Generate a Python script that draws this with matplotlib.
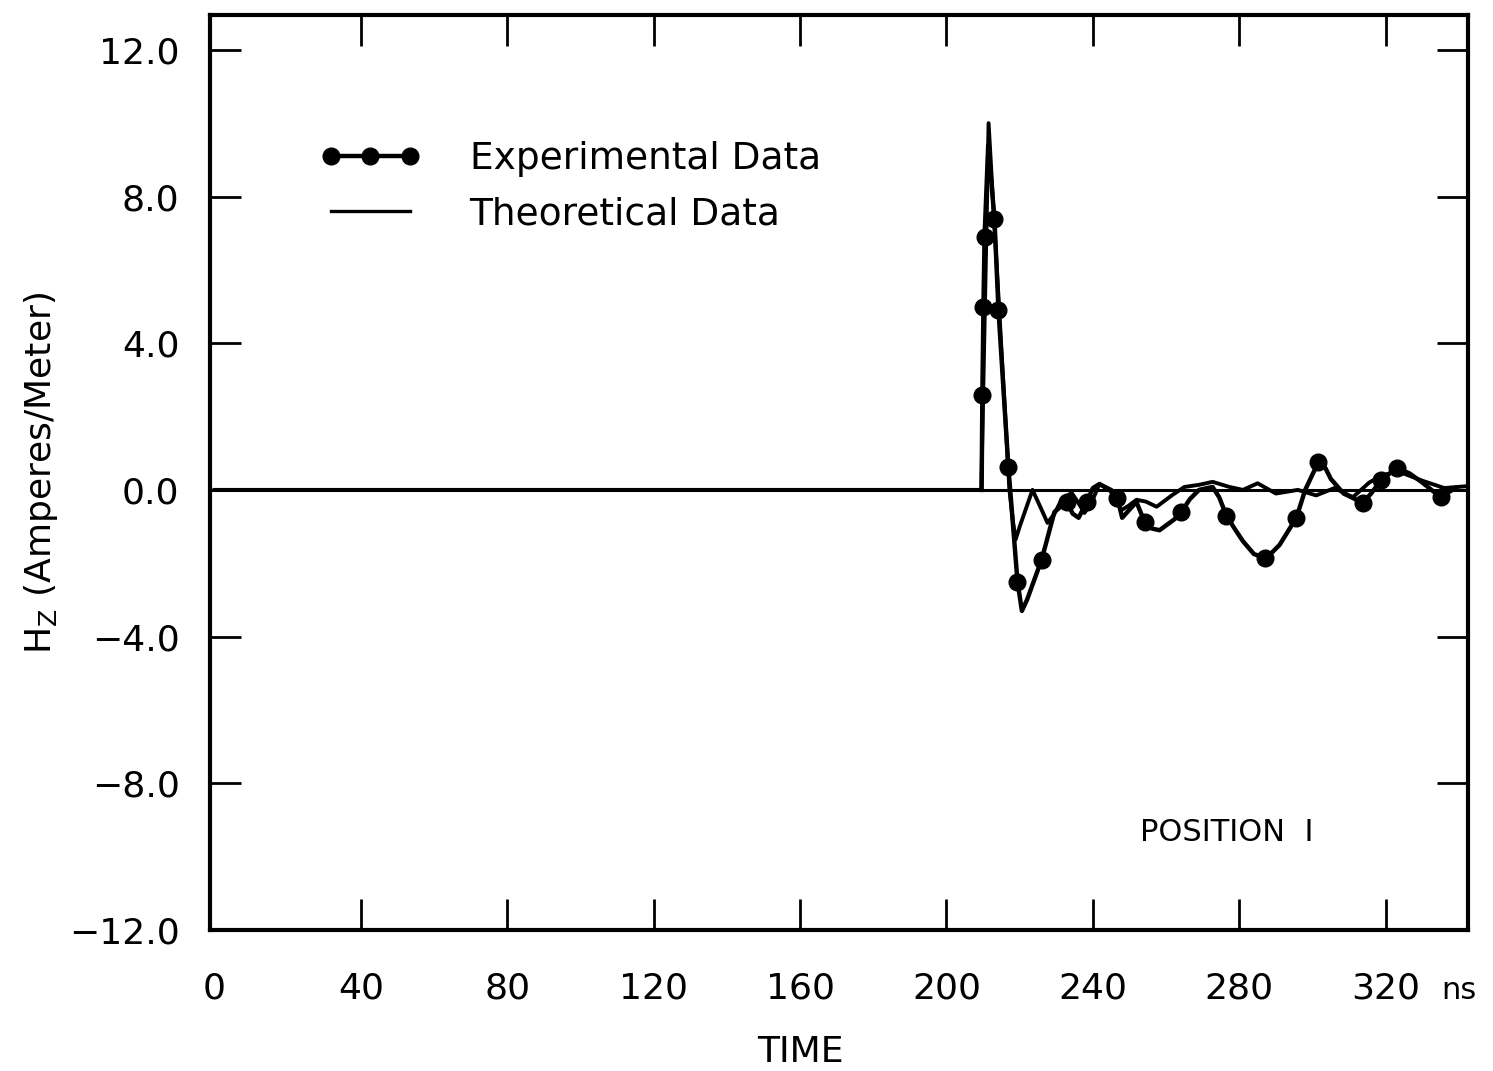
import matplotlib
matplotlib.use("Agg")
import matplotlib.pyplot as plt
from matplotlib.lines import Line2D

# ---------------- data ----------------
theory_t = [0, 209.5, 211.5, 217.2, 218.2, 218.9, 220.0, 223.5, 225.8, 227.6, 229.5,
            231.4, 234.2, 236.0, 237.7, 239.8, 241.8, 245.1, 246.6, 247.8, 249.5,
            251.9, 254.5, 257.4, 261.7, 265.0, 269.1, 272.7, 277.3, 281.0,
            285.0, 290.0, 296.0, 301.0, 306.0, 311.0, 315.5, 319.0, 323.5, 330.0,
            336.0, 342.0]
theory_v = [0, 0, 10.0, 0, -0.9, -1.35, -1.0, 0, -0.5, -0.9, -0.65,
            -0.27, -0.08, -0.35, -0.63, -0.3, 0.16, 0, -0.35, -0.55, -0.45,
            -0.27, -0.32, -0.46, -0.14, 0.08, 0.14, 0.22, 0.08, 0.0,
            0.18, -0.1, 0.0, -0.15, 0.05, -0.2, 0.2, 0.4, 0.5, 0.25,
            0.05, 0.1]

exp_dot_t = [209.8, 210.1, 210.4, 213.1, 214.2, 216.9, 219.4, 226.0, 232.8, 238.3,
             246.7, 254.1, 264.2, 276.5, 286.9, 295.6, 301.6, 313.7, 318.8, 323.0,
             335.0]
exp_dot_v = [2.6, 5.0, 6.9, 7.4, 4.9, 0.63, -2.5, -1.9, -0.33, -0.33,
             -0.22, -0.87, -0.6, -0.71, -1.85, -0.76, 0.76, -0.35, 0.27, 0.6,
             -0.2]

exp_line_t = [209.6, 209.8, 210.1, 210.4, 211.4, 213.1, 214.2, 216.9, 219.4, 220.6,
              222.0, 226.0, 229.5, 232.8, 234.5, 236.1, 238.3, 240.0, 241.8, 244.5,
              246.7, 248.0, 251.9, 254.1, 256.0, 258.2, 262.3, 264.2, 266.5, 269.0,
              272.7, 274.5, 276.5, 279.0, 281.0, 284.0, 286.9, 289.0, 291.0, 295.6,
              298.0, 301.6, 303.5, 305.0, 308.5, 313.7, 316.0, 318.8, 323.0, 326.5,
              330.0, 335.0, 339.0]
exp_line_v = [0, 2.6, 5.0, 6.9, 9.4, 7.4, 4.9, 0.63, -2.5, -3.3,
              -3.0, -1.9, -0.6, -0.33, -0.65, -0.76, -0.33, 0.05, 0.16, 0.0,
              -0.22, -0.76, -0.33, -0.87, -1.05, -1.1, -0.8, -0.6, -0.25, 0.0,
              0.08, -0.2, -0.71, -1.1, -1.4, -1.75, -1.85, -1.7, -1.5, -0.76,
              0.0, 0.76, 0.6, 0.3, -0.1, -0.35, -0.1, 0.27, 0.6, 0.45,
              0.2, -0.2, 0.05]

x_ticks = [0, 40, 80, 120, 160, 200, 240, 280, 320]
x_tick_labels = ["0", "40", "80", "120", "160", "200", "240", "280", "320"]
y_ticks = [-12, -8, -4, 0, 4, 8, 12]
y_tick_labels = ["\u221212.0", "\u22128.0", "\u22124.0", "0.0", "4.0", "8.0", "12.0"]

# ---------------- figure ----------------
fig = plt.figure(figsize=(14.93, 10.71), dpi=100)
ax = fig.add_axes([0.1407, 0.1317, 0.8426, 0.8543])

ax.axhline(0, color="black", lw=2.2, zorder=1)
ax.plot(theory_t, theory_v, color="black", lw=2.8, zorder=2)
ax.plot(exp_line_t, exp_line_v, color="black", lw=3.2, zorder=3)
ax.plot(exp_dot_t, exp_dot_v, "o", color="black", ms=12, zorder=4)

ax.set_xlim(-1.2, 342.5)
ax.set_ylim(-12, 12.95)

ax.set_xticks(x_ticks)
ax.set_xticklabels(x_tick_labels)
ax.set_yticks(y_ticks)
ax.set_yticklabels(y_tick_labels)

ax.tick_params(axis="both", which="major", direction="in", length=22, width=2,
               top=True, right=True, labelsize=26, colors="black")
ax.tick_params(axis="x", pad=30)
ax.tick_params(axis="y", pad=22)
for s in ax.spines.values():
    s.set_linewidth(3)
# the tick at 0 coincides with the left frame line
ax.xaxis.get_major_ticks()[0].tick1line.set_visible(False)
ax.xaxis.get_major_ticks()[0].tick2line.set_visible(False)

ax.text(0.979, -0.066, "ns", transform=ax.transAxes, fontsize=22,
        ha="left", va="center")

ax.set_xlabel("TIME", fontsize=26, labelpad=20)
ax.xaxis.set_label_coords(0.469, -0.115)
ax.set_ylabel(r"H$_\mathregular{Z}$ (Amperes/Meter)", fontsize=26, labelpad=6)

ax.text(0.808, 0.106, "POSITION  I", transform=ax.transAxes, fontsize=22,
        ha="center", va="center")

handles = [
    Line2D([], [], color="black", lw=3.2, marker="o", ms=12),
    Line2D([], [], color="black", lw=2.4),
]
leg = ax.legend(handles, ["Experimental Data", "Theoretical Data"], loc="upper left",
                bbox_to_anchor=(0.087, 0.862), frameon=False, fontsize=27,
                numpoints=3, handlelength=2.7, handletextpad=1.3,
                labelspacing=0.5, borderpad=0, borderaxespad=0)

fig.savefig("out.png", dpi=100, facecolor="white")
